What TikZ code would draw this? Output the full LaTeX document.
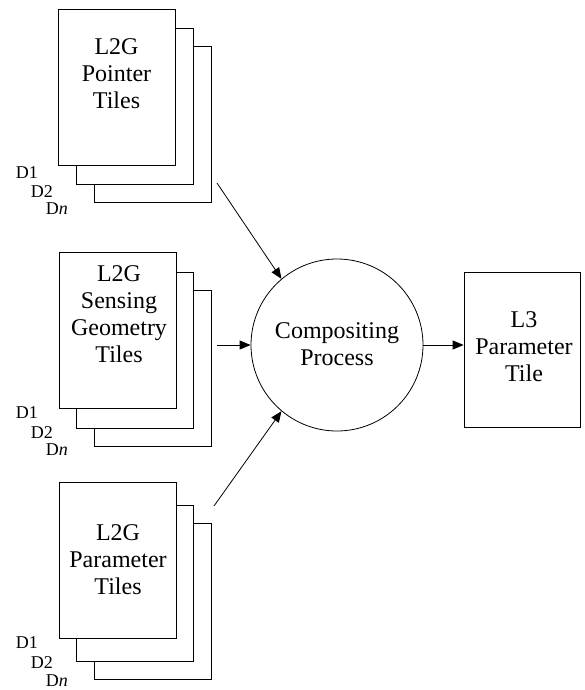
\documentclass[tikz,border=0pt]{standalone}
\usepackage{fontspec}
\setmainfont{Liberation Serif}
\usetikzlibrary{arrows.meta}
\begin{document}
\begin{tikzpicture}[x=1pt,y=-1pt,
  tile/.style={draw, fill=white, line width=0.8pt, inner sep=0pt,
    minimum width=117pt, minimum height=156pt},
  caption/.style={align=center, inner sep=0pt,
    font=\fontsize{24}{27}\selectfont},
  layer/.style={anchor=east, inner sep=0pt, font=\fontsize{18}{20}\selectfont},
  flow/.style={line width=0.8pt, -{Triangle[length=11pt,width=9pt]}}]
\useasboundingbox (0,0) rectangle (585,690);

% pointer tiles stack
\node[tile] (p3) at (152.5,124.5) {};
\node[tile] (p2) at (134.5,106) {};
\node[tile] (p1) at (116.5,87.5) {};
\node[caption] (pt) at (116.5,74) {L2G\\Pointer\\Tiles};
\node[layer] (p1l) at (38,173) {D1};
\node[layer] (p2l) at (53,192) {D2};
\node[layer] (p3l) at (68,209) {D\textit{n}};

% sensing geometry tiles stack
\node[tile] (s3) at (152.5,368.5) {};
\node[tile] (s2) at (134.5,350) {};
\node[tile] (s1) at (117.5,330) {};
\node[caption] (st) at (119,314) {L2G\\Sensing\\Geometry\\Tiles};
\node[layer] (s1l) at (38,413) {D1};
\node[layer] (s2l) at (53,433) {D2};
\node[layer] (s3l) at (68,450) {D\textit{n}};

% parameter tiles stack
\node[tile] (m3) at (152.5,601) {};
\node[tile] (m2) at (134.5,583) {};
\node[tile] (m1) at (117.5,560.5) {};
\node[caption] (mt) at (118,560) {L2G\\Parameter\\Tiles};
\node[layer] (m1l) at (38,643) {D1};
\node[layer] (m2l) at (53,663) {D2};
\node[layer] (m3l) at (68,681) {D\textit{n}};

% compositing step and its output
\node[draw, circle, line width=0.8pt, minimum size=172pt, inner sep=0pt]
  (comp) at (337,345) {};
\node[caption] (compt) at (337,344) {Compositing\\Process};
\node[tile, minimum width=116pt, minimum height=155pt] (out) at (522,349.5) {};
\node[caption] (outt) at (524,346.5) {L3\\Parameter\\Tile};

% connectors
\coordinate (a1) at (217,183);
\coordinate (a2) at (217,345);
\coordinate (a3) at (214,506);
\draw[flow] (a1) -- (comp.130);
\draw[flow] (a2) -- (comp.west);
\draw[flow] (a3) -- (comp.230);
\draw[flow] (comp.east) -- (comp.east -| out.west);
\end{tikzpicture}
\end{document}
